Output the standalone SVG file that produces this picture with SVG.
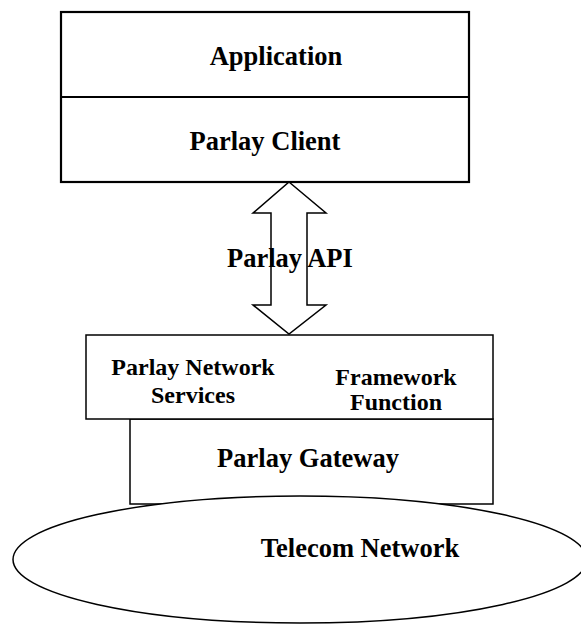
<svg xmlns="http://www.w3.org/2000/svg" width="581" height="626" viewBox="0 0 581 626">
  <style>
    .box { fill: #ffffff; stroke: #000000; stroke-width: 1.5; }
    .thick { stroke-width: 2.2; }
    .lbl { font-family: "Liberation Serif", "Times New Roman", serif; font-weight: bold; fill: #000000; }
    .big { font-size: 26.5px; }
    .small { font-size: 24px; }
  </style>
  <rect width="581" height="626" fill="#ffffff"/>

  <!-- Application / Parlay Client stack -->
  <g id="client">
    <rect class="box thick" x="61" y="12" width="408" height="170"/>
    <line x1="61" y1="97" x2="469" y2="97" stroke="#000" stroke-width="2.2"/>
    <text class="lbl big" x="276" y="65" text-anchor="middle">Application</text>
    <text class="lbl big" x="265" y="150" text-anchor="middle">Parlay Client</text>
  </g>

  <!-- Parlay Gateway body -->
  <g id="gateway">
    <rect class="box" x="130" y="419" width="363" height="85"/>
    <text class="lbl big" x="308" y="467" text-anchor="middle">Parlay Gateway</text>
  </g>

  <!-- Services / Framework layer -->
  <g id="services">
    <rect class="box" x="86" y="335" width="407" height="84"/>
    <text class="lbl small" x="193" y="375" text-anchor="middle">Parlay Network</text>
    <text class="lbl small" x="193" y="403" text-anchor="middle">Services</text>
    <text class="lbl small" x="396" y="385" text-anchor="middle">Framework</text>
    <text class="lbl small" x="396" y="410" text-anchor="middle">Function</text>
  </g>

  <!-- Telecom Network cloud -->
  <g id="network">
    <ellipse class="box" cx="300" cy="559.5" rx="287" ry="63.5"/>
    <text class="lbl big" x="360" y="557" text-anchor="middle">Telecom Network</text>
  </g>

  <!-- API link: double-headed block arrow -->
  <g id="connectors">
    <text class="lbl big" x="227" y="267">Parlay API</text>
    <polygon points="289,182 326,213 307,213 307,305 326,305 289,334 253,305 271,305 271,213 253,213" fill="none" stroke="#000" stroke-width="1.5" stroke-linejoin="miter"/>
  </g>
</svg>
